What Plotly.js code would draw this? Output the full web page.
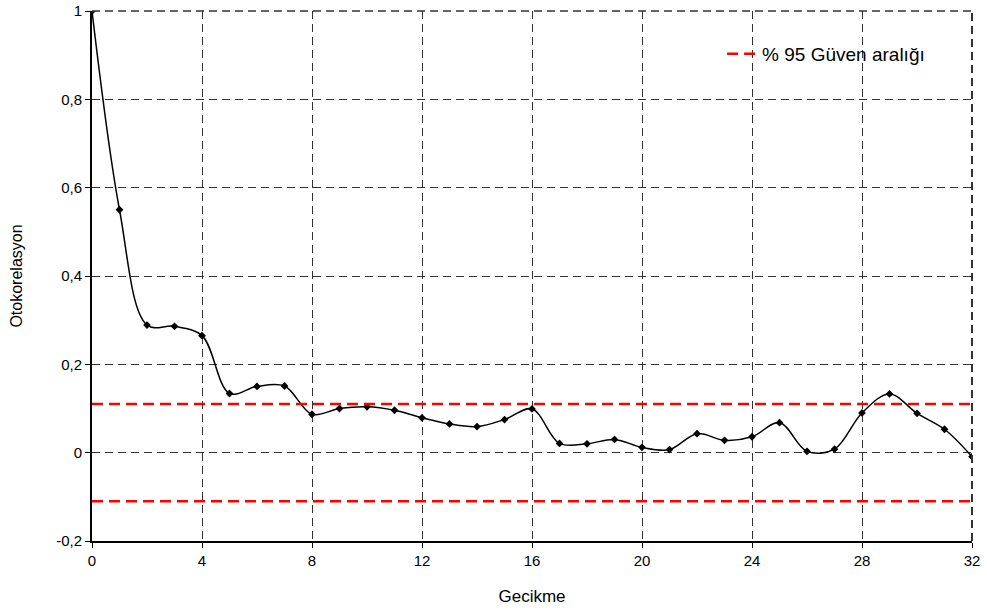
<!DOCTYPE html>
<html>
<head>
<meta charset="utf-8">
<script src="https://cdn.plot.ly/plotly-3.0.1.min.js"></script>
<style>html,body{margin:0;padding:0;background:#fff;}#chart{width:987px;height:614px;}</style>
</head>
<body>
<div id="chart"></div>
<script>
const lags = [0,1,2,3,4,5,6,7,8,9,10,11,12,13,14,15,16,17,18,19,20,21,22,23,24,25,26,27,28,29,30,31,32];
const acf = [1,0.55,0.289,0.286,0.265,0.134,0.15,0.151,0.087,0.1,0.104,0.096,0.079,0.065,0.059,0.075,0.099,0.021,0.02,0.03,0.012,0.007,0.043,0.028,0.036,0.068,0.003,0.008,0.09,0.133,0.089,0.053,-0.009];
const ciX = [0,32];
const ciUpper = [0.11,0.11];
const ciLower = [-0.11,-0.11];
const yTickVals = [-0.2,0,0.2,0.4,0.6,0.8,1];
const yTickText = ["-0,2","0","0,2","0,4","0,6","0,8","1"];
const xTickVals = [0,4,8,12,16,20,24,28,32];

const narrow = '"Liberation Sans Narrow", "Arial Narrow", "Liberation Sans", Arial, sans-serif';

const traces = [
  {x: lags, y: acf, type:'scatter', mode:'lines+markers', showlegend:false,
   line:{color:'#000', width:1.5, shape:'spline', smoothing:1},
   marker:{symbol:'diamond', size:6, color:'#000'}},
  {x: ciX, y: ciUpper, type:'scatter', mode:'lines', name:'% 95 Güven aralığı',
   line:{color:'#ff0000', width:2.5, dash:'11px,6px'}},
  {x: ciX, y: ciLower, type:'scatter', mode:'lines', showlegend:false,
   line:{color:'#ff0000', width:2.5, dash:'11px,6px'}}
];

const layout = {
  width:987, height:614,
  margin:{l:92, r:15, t:11, b:73},
  paper_bgcolor:'#fff', plot_bgcolor:'#fff',
  font:{family:'"Liberation Sans", Arial, sans-serif', color:'#000', size:13},
  showlegend:true,
  legend:{x:0.716, y:0.919, xanchor:'left', yanchor:'middle', bgcolor:'rgba(255,255,255,0)',
          font:{size:19}},
  xaxis:{range:[0,32], tickvals:xTickVals, ticktext:xTickVals.map(String),
         showgrid:true, gridcolor:'#333', griddash:'8px,5px', gridwidth:1,
         showline:true, linecolor:'#000', linewidth:2, zeroline:false,
         ticks:'outside', ticklen:5, tickcolor:'#000',
         tickfont:{family:narrow, size:15},
         title:{text:'Gecikme', font:{family:narrow, size:17}, standoff:22}},
  yaxis:{range:[-0.2,1], tickvals:yTickVals, ticktext:yTickText,
         showgrid:true, gridcolor:'#333', griddash:'8px,5px', gridwidth:1,
         showline:true, linecolor:'#000', linewidth:2, zeroline:false,
         ticks:'outside', ticklen:5, tickcolor:'#000',
         tickfont:{family:narrow, size:15},
         title:{text:'Otokorelasyon', font:{size:16}, standoff:30}},
  shapes:[
    {type:'line', xref:'paper', yref:'paper', x0:1, x1:1, y0:0, y1:1,
     line:{color:'#333', width:2, dash:'8px,5px'}},
    {type:'line', xref:'paper', yref:'paper', x0:0, x1:1, y0:1, y1:1,
     line:{color:'#333', width:1.5, dash:'8px,5px'}}
  ]
};

Plotly.newPlot('chart', traces, layout, {displayModeBar:false, staticPlot:true});
</script>
</body>
</html>
